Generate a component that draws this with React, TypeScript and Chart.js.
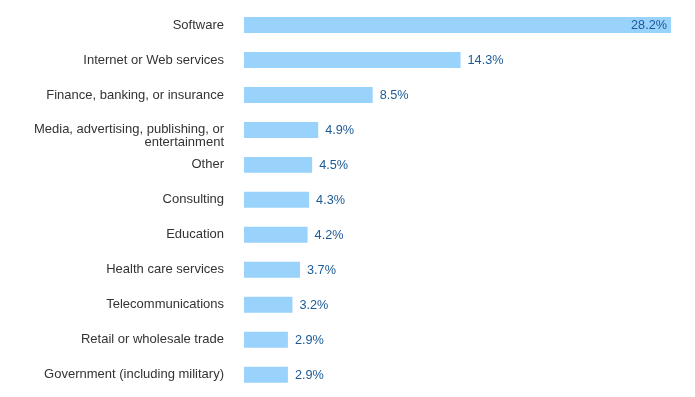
import React, { useEffect, useRef } from "react";
import { Chart, registerables } from "chart.js";

Chart.register(...registerables);

const categories: (string | string[])[] = [
  "Software",
  "Internet or Web services",
  "Finance, banking, or insurance",
  ["", "Media, advertising, publishing, or", "entertainment"],
  "Other",
  "Consulting",
  "Education",
  "Health care services",
  "Telecommunications",
  "Retail or wholesale trade",
  "Government (including military)",
];
const values: number[] = [28.2, 14.3, 8.5, 4.9, 4.5, 4.3, 4.2, 3.7, 3.2, 2.9, 2.9];

const BAR_COLOR = "#99d3fc";
const LABEL_COLOR = "#1b5a96";
const TICK_COLOR = "#333333";
const FONT = "'Liberation Sans', Arial, sans-serif";

const valueLabels = {
  id: "valueLabels",
  afterDatasetsDraw(chart: any) {
    const ctx = chart.ctx;
    const meta = chart.getDatasetMeta(0);
    const area = chart.chartArea;
    ctx.save();
    ctx.font = `12.7px ${FONT}`;
    ctx.fillStyle = LABEL_COLOR;
    ctx.textBaseline = "middle";
    meta.data.forEach((bar: any, i: number) => {
      const text = values[i].toFixed(1) + "%";
      const w = ctx.measureText(text).width;
      if (bar.x + 7 + w > area.right + 20) {
        ctx.textAlign = "right";
        ctx.fillText(text, bar.x - 4, bar.y + 1);
      } else {
        ctx.textAlign = "left";
        ctx.fillText(text, bar.x + 7, bar.y + 1);
      }
    });
    ctx.restore();
  },
};

export default function App() {
  const ref = useRef<HTMLCanvasElement | null>(null);
  useEffect(() => {
    if (!ref.current) return;
    const chart = new Chart(ref.current, {
      type: "bar",
      data: {
        labels: categories,
        datasets: [
          {
            data: values,
            backgroundColor: BAR_COLOR,
            borderWidth: 0,
            barPercentage: 0.457,
            categoryPercentage: 1,
          },
        ],
      },
      options: {
        indexAxis: "y",
        animation: false,
        responsive: false,
        maintainAspectRatio: false,
        layout: { padding: { top: 7.5, bottom: 4.8, left: 0, right: 24 } },
        plugins: {
          legend: { display: false },
          tooltip: { enabled: false },
        },
        scales: {
          x: {
            display: false,
            min: 0,
            max: 28.2,
          },
          y: {
            grid: { display: false, drawTicks: false },
            border: { display: false },
            ticks: {
              color: TICK_COLOR,
              font: { family: FONT, size: 13, lineHeight: 1.0 },
              padding: 20,
              autoSkip: false,
            },
            afterFit(scale: any) {
              scale.width = 244;
              scale.paddingTop = 0;
              scale.paddingBottom = 0;
            },
          },
        },
      },
      plugins: [valueLabels],
    });
    return () => chart.destroy();
  }, []);
  return (
    <div style={{ position: "fixed", left: 0, top: 0, width: 695, height: 397, background: "#fff" }}>
      <canvas ref={ref} width={695} height={397} style={{ width: 695, height: 397, display: "block" }} />
    </div>
  );
}
